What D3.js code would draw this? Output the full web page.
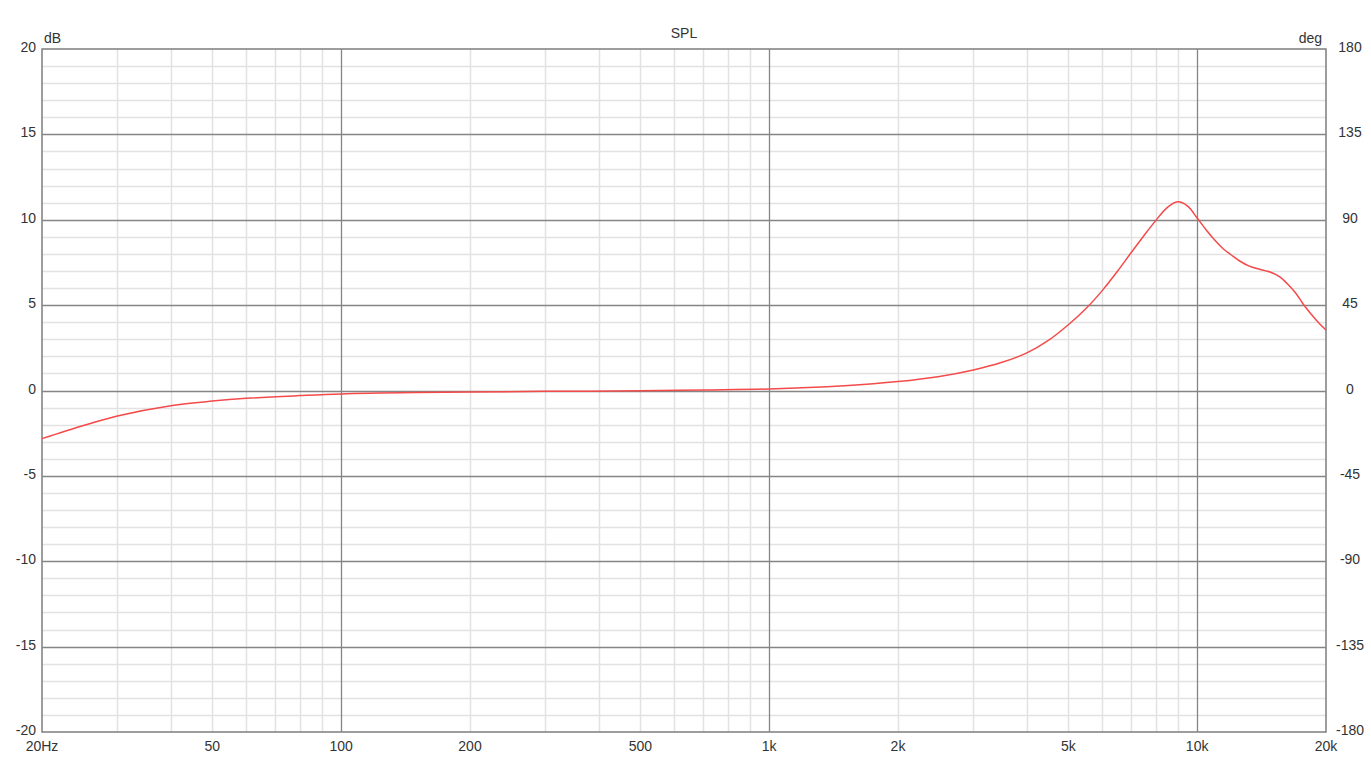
<!DOCTYPE html>
<html>
<head>
<meta charset="utf-8">
<script src="https://cdn.jsdelivr.net/npm/d3@7"></script>
<style>
  body { margin: 0; background: #fff; }
  svg text { font-family: "Liberation Sans", Arial, sans-serif; font-size: 14px; fill: #333; }
</style>
</head>
<body>
<div id="chart"></div>
<script>
const W = 1371, H = 781;
const m = { left: 42, right: 45, top: 49, bottom: 49 };

// frequency response (Hz, dB)
const freqs = [20, 25, 30, 40, 50, 60, 80, 100, 150, 200, 300, 500, 700, 1000, 1500, 2000,
  2500, 3000, 3500, 4000, 4500, 5000, 5500, 6000, 6500, 7000, 7500, 8000, 8500, 9000, 9500,
  10000, 10500, 11000, 11500, 12000, 12600, 13200, 13800, 14400, 15000, 15600, 16200, 17000,
  17700, 18500, 19200, 20000];
const spl = [-2.82, -2.05, -1.49, -0.89, -0.62, -0.46, -0.3, -0.2, -0.12, -0.09, -0.05, -0.02, 0.03, 0.09, 0.28, 0.52,
  0.82, 1.2, 1.65, 2.2, 2.95, 3.85, 4.8, 5.85, 6.95, 8.05, 9.05, 9.95, 10.7, 11.05, 10.8,
  10.1, 9.4, 8.8, 8.3, 7.95, 7.57, 7.3, 7.14, 7.02, 6.88, 6.65, 6.28, 5.7,
  5.05, 4.45, 3.98, 3.54];

const dbTicks = [20, 15, 10, 5, 0, -5, -10, -15, -20];
const degTicks = [180, 135, 90, 45, 0, -45, -90, -135, -180];
const freqLabels = [[20, '20Hz'], [50, '50'], [100, '100'], [200, '200'], [500, '500'],
  [1000, '1k'], [2000, '2k'], [5000, '5k'], [10000, '10k'], [20000, '20k']];
const majorFreqs = [100, 1000, 10000];

const svg = d3.select('#chart').append('svg')
  .attr('width', W)
  .attr('height', H);

const x = d3.scaleLog().domain([20, 20000]).range([m.left, W - m.right]);
const y = d3.scaleLinear().domain([-20, 20]).range([H - m.bottom, m.top]);
const y2 = d3.scaleLinear().domain([-180, 180]).range([H - m.bottom, m.top]);

// minor grid
let minorF = [];
[10, 100, 1000].forEach(dec => {
  for (let k = 2; k <= 9; k++) {
    let f = dec * k;
    if (f > 20 && f < 20000 && !majorFreqs.includes(f)) minorF.push(f);
  }
});
let minorDb = d3.range(-19, 20).filter(v => v % 5 !== 0);

svg.append('g').selectAll('line')
  .data(minorF)
  .enter().append('line')
  .attr('x1', d => Math.round(x(d)) + 0.5).attr('x2', d => Math.round(x(d)) + 0.5)
  .attr('y1', y(20)).attr('y2', y(-20))
  .attr('stroke', '#e2e2e2').attr('stroke-width', 1.5);

svg.append('g').selectAll('line')
  .data(minorDb)
  .enter().append('line')
  .attr('x1', x(20)).attr('x2', x(20000))
  .attr('y1', d => Math.round(y(d)) + 0.5).attr('y2', d => Math.round(y(d)) + 0.5)
  .attr('stroke', '#e2e2e2').attr('stroke-width', 1.5);

// major grid
svg.append('g').selectAll('line')
  .data(majorFreqs)
  .enter().append('line')
  .attr('x1', d => Math.round(x(d)) + 0.5).attr('x2', d => Math.round(x(d)) + 0.5)
  .attr('y1', y(20)).attr('y2', y(-20))
  .attr('stroke', '#858585').attr('stroke-width', 1.3);

svg.append('g').selectAll('line')
  .data(dbTicks.filter(d => Math.abs(d) < 20))
  .enter().append('line')
  .attr('x1', x(20)).attr('x2', x(20000))
  .attr('y1', d => Math.round(y(d)) + 0.5).attr('y2', d => Math.round(y(d)) + 0.5)
  .attr('stroke', '#858585').attr('stroke-width', 1.3);

// frame
svg.append('rect')
  .attr('x', x(20)).attr('y', y(20))
  .attr('width', x(20000) - x(20)).attr('height', y(-20) - y(20))
  .attr('fill', 'none').attr('stroke', '#858585').attr('stroke-width', 1.6);

// curve
const line = d3.line()
  .x((d, i) => x(freqs[i]))
  .y(d => y(d))
  .curve(d3.curveCatmullRom.alpha(0.5));

svg.append('path')
  .datum(spl)
  .attr('d', line)
  .attr('fill', 'none')
  .attr('stroke', '#f44a4a')
  .attr('stroke-width', 1.5);

// labels
svg.append('g').selectAll('text')
  .data(dbTicks)
  .enter().append('text')
  .attr('x', 36)
  .attr('y', d => y(d) - 2)
  .attr('dominant-baseline', 'central')
  .attr('text-anchor', 'end')
  .text(d => d);

svg.append('g').selectAll('text')
  .data(degTicks)
  .enter().append('text')
  .attr('x', 1350)
  .attr('y', d => y2(d) - 2)
  .attr('dominant-baseline', 'central')
  .attr('text-anchor', 'middle')
  .text(d => d);

svg.append('g').selectAll('text')
  .data(freqLabels)
  .enter().append('text')
  .attr('x', d => x(d[0]))
  .attr('y', 751)
  .attr('text-anchor', 'middle')
  .text(d => d[1]);

svg.append('text').attr('x', 684).attr('y', 38).attr('text-anchor', 'middle').text('SPL');
svg.append('text').attr('x', 44).attr('y', 43).text('dB');
svg.append('text').attr('x', 1322).attr('y', 43).attr('text-anchor', 'end').text('deg');
</script>
</body>
</html>
